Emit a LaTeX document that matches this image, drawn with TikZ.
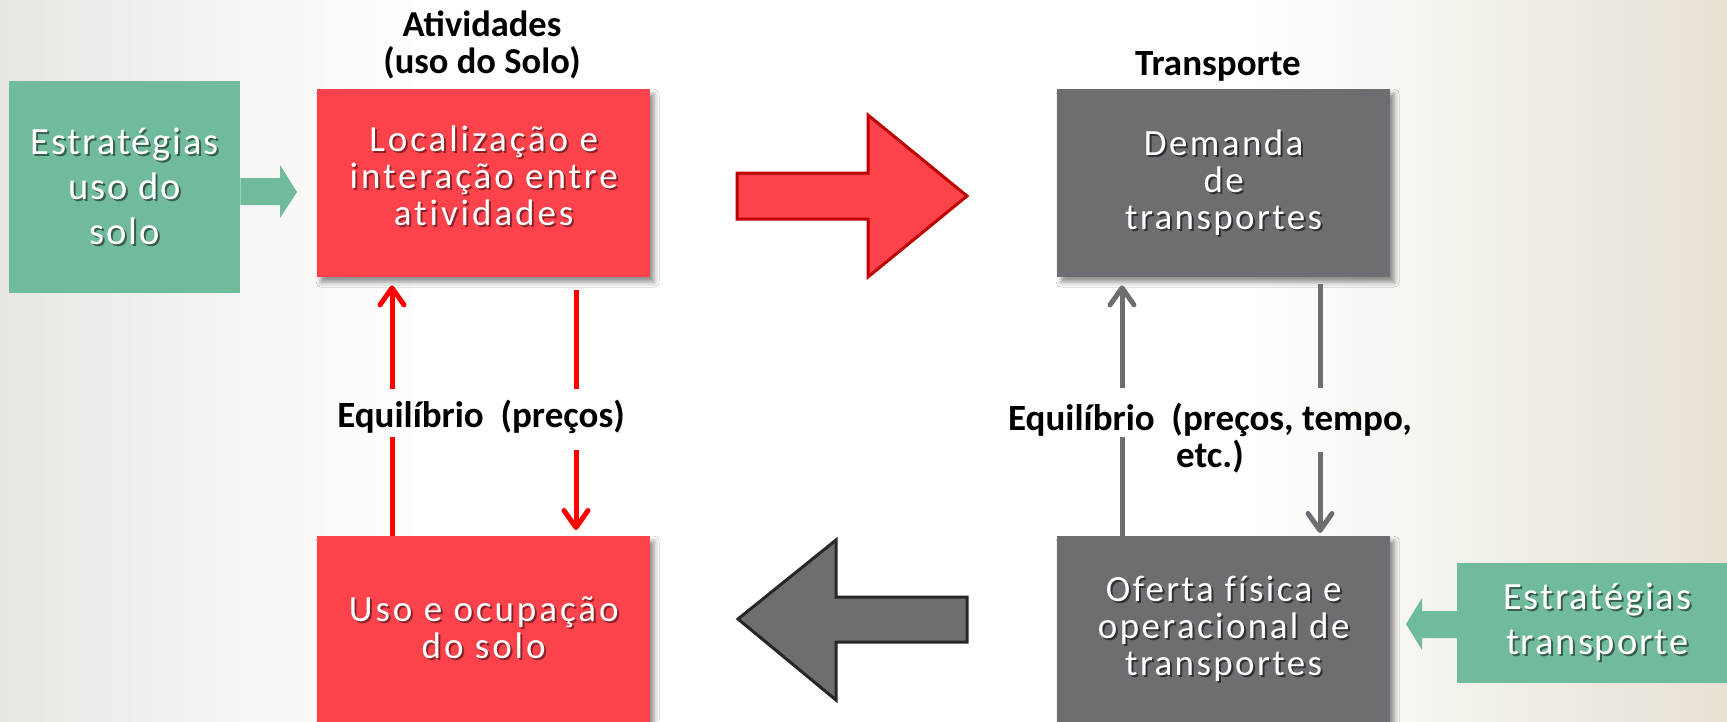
\documentclass[tikz,border=0pt]{standalone}
\usepackage{fontspec}
\setmainfont{Carlito}
\newfontfamily\redfont[LetterSpace=8,Ligatures=NoCommon]{Carlito}
\newfontfamily\grayfont[LetterSpace=6.5,Ligatures=NoCommon]{Carlito}
\newfontfamily\greenfont[LetterSpace=5,Ligatures=NoCommon]{Carlito}
\usetikzlibrary{arrows.meta,shadows.blur,calc}
\definecolor{boxred}{HTML}{FC424B}
\definecolor{boxgray}{HTML}{6E6D72}
\definecolor{boxgreen}{HTML}{6FBB9B}
\definecolor{arrred}{HTML}{C00000}
\definecolor{arrdark}{HTML}{262626}
\definecolor{lnred}{HTML}{FF0000}
\definecolor{bgL}{HTML}{E9E7E2}
\definecolor{bgR}{HTML}{E7E1D4}
\colorlet{shcol}{black!50}
\newcommand\lowstrut[1]{\rule[-#1]{0pt}{#1}}
% white text with a soft drop shadow
\newcommand\shd[1]{\makebox[0pt][l]{\hspace{2pt}\raisebox{-2pt}{\textcolor{shcol}{#1}}}#1}
\tikzset{
  mainbox/.style={anchor=north west, minimum width=333pt, minimum height=188pt,
    inner sep=0pt, align=center, text=white,
    blur shadow={shadow xshift=4pt, shadow yshift=-5pt, shadow blur radius=5pt, shadow opacity=45}},
  redbox/.style={mainbox, fill=boxred,
    font={\colorlet{shcol}{boxred!55!black}\redfont\fontsize{37}{37}\selectfont}},
  graybox/.style={mainbox, fill=boxgray,
    font={\colorlet{shcol}{boxgray!45!black}\grayfont\fontsize{37}{37}\selectfont}},
  greenbox/.style={anchor=north west, inner sep=0pt, align=center, text=white, fill=boxgreen,
    font={\colorlet{shcol}{boxgreen!50!black}\greenfont\fontsize{38.5}{45}\selectfont}},
  blacklabel/.style={align=center, text=black, inner sep=0pt,
    font=\bfseries\fontsize{37}{37}\selectfont},
  thinred/.style={draw=lnred, line width=5pt},
  thingray/.style={draw=boxgray, line width=5pt},
  tipped/.style={-{Straight Barb[length=17pt,width=24pt,round]}},
  bigred/.style={fill=boxred, draw=arrred, line width=3pt, line join=miter},
  biggray/.style={fill=boxgray, draw=arrdark, line width=3pt, line join=miter},
  greenarrow/.style={fill=boxgreen, draw=none}
}
\begin{document}
\begin{tikzpicture}[x=1pt,y=-1pt]
\useasboundingbox (0,0) rectangle (1727,721);
% background
\fill[white] (0,0) rectangle (1727,721);
\shade[left color=bgL, right color=white] (0,0) rectangle (420,721);
\shade[left color=white, right color=bgR] (1250,0) rectangle (1727,721);

% titles
\node[blacklabel, font=\bfseries\fontsize{36.5}{36.5}\selectfont] (tAtiv) at (482,45) {Atividades\\(uso do Solo)};
\node[blacklabel, font=\bfseries\fontsize{37}{37}\selectfont] (tTrans) at (1218,66) {Transporte};

% boxes
\node[redbox] (loc) at (317,89) {\shd{Localização e}\\\shd{interação entre}\\\shd{atividades}\lowstrut{16pt}};
\node[graybox] (dem) at (1057,89) {\shd{Demanda}\\\shd{de}\\\shd{transportes}\lowstrut{6pt}};
\node[redbox] (uso) at (317,536) {\shd{Uso e ocupação}\\\shd{do solo}\lowstrut{6pt}};
\node[graybox] (ofe) at (1057,536) {\shd{Oferta física e}\\\shd{operacional de}\\\shd{transportes}};
\node[greenbox, minimum width=231pt, minimum height=212pt] (estU) at (9,81) {\shd{Estratégias}\\\shd{uso do}\\\shd{solo}};
\node[greenbox, minimum width=280pt, minimum height=120pt] (estT) at (1457,563) {\shd{Estratégias}\\\shd{transporte}};

% green arrows
\fill[greenarrow] (estU.east |- 0,178) -- (280,178) -- (280,165) -- (297,192)
   -- (280,218) -- (280,205) -- (estU.east |- 0,205) -- cycle;
\fill[greenarrow] (estT.west |- 0,611) -- (1422,611) -- (1422,598) -- (1406,624)
   -- (1422,650) -- (1422,638) -- (estT.west |- 0,638) -- cycle;

% big arrows
\draw[bigred] (737,173) -- (868,173) -- (868,115) -- (967,196) -- (868,277)
   -- (868,219) -- (737,219) -- cycle;
\draw[biggray] (967,597) -- (836,597) -- (836,540) -- (738,619) -- (836,700)
   -- (836,642) -- (967,642) -- cycle;

% labels
\node[blacklabel] (eqR) at (481,417) {Equilíbrio~~(preços)};
\node[blacklabel] (eqT) at (1210,438) {Equilíbrio~~(preços, tempo,\\etc.)};

% gap end points of the thin connectors
\coordinate (rLlo) at (392,437);
\coordinate (rLhi) at (392,389);
\coordinate (rRhi) at (576,389);
\coordinate (rRlo) at (576,450);
\coordinate (gLlo) at (1122,437);
\coordinate (gLhi) at (1122,388);
\coordinate (gRhi) at (1320,388);
\coordinate (gRlo) at (1320,452);

% red thin connectors
\draw[thinred] (uso.north -| rLlo) -- (rLlo);
\draw[thinred, tipped] (rLhi) -- ([yshift=-8pt]loc.south -| rLhi);
\draw[thinred] ([yshift=-13pt]loc.south -| rRhi) -- (rRhi);
\draw[thinred, tipped] (rRlo) -- ([yshift=6pt]uso.north -| rRlo);

% gray thin connectors
\draw[thingray] (ofe.north -| gLlo) -- (gLlo);
\draw[thingray, tipped] (gLhi) -- ([yshift=-8pt]dem.south -| gLhi);
\draw[thingray] ([yshift=-7pt]dem.south -| gRhi) -- (gRhi);
\draw[thingray, tipped] (gRlo) -- ([yshift=3pt]ofe.north -| gRlo);
\end{tikzpicture}
\end{document}
